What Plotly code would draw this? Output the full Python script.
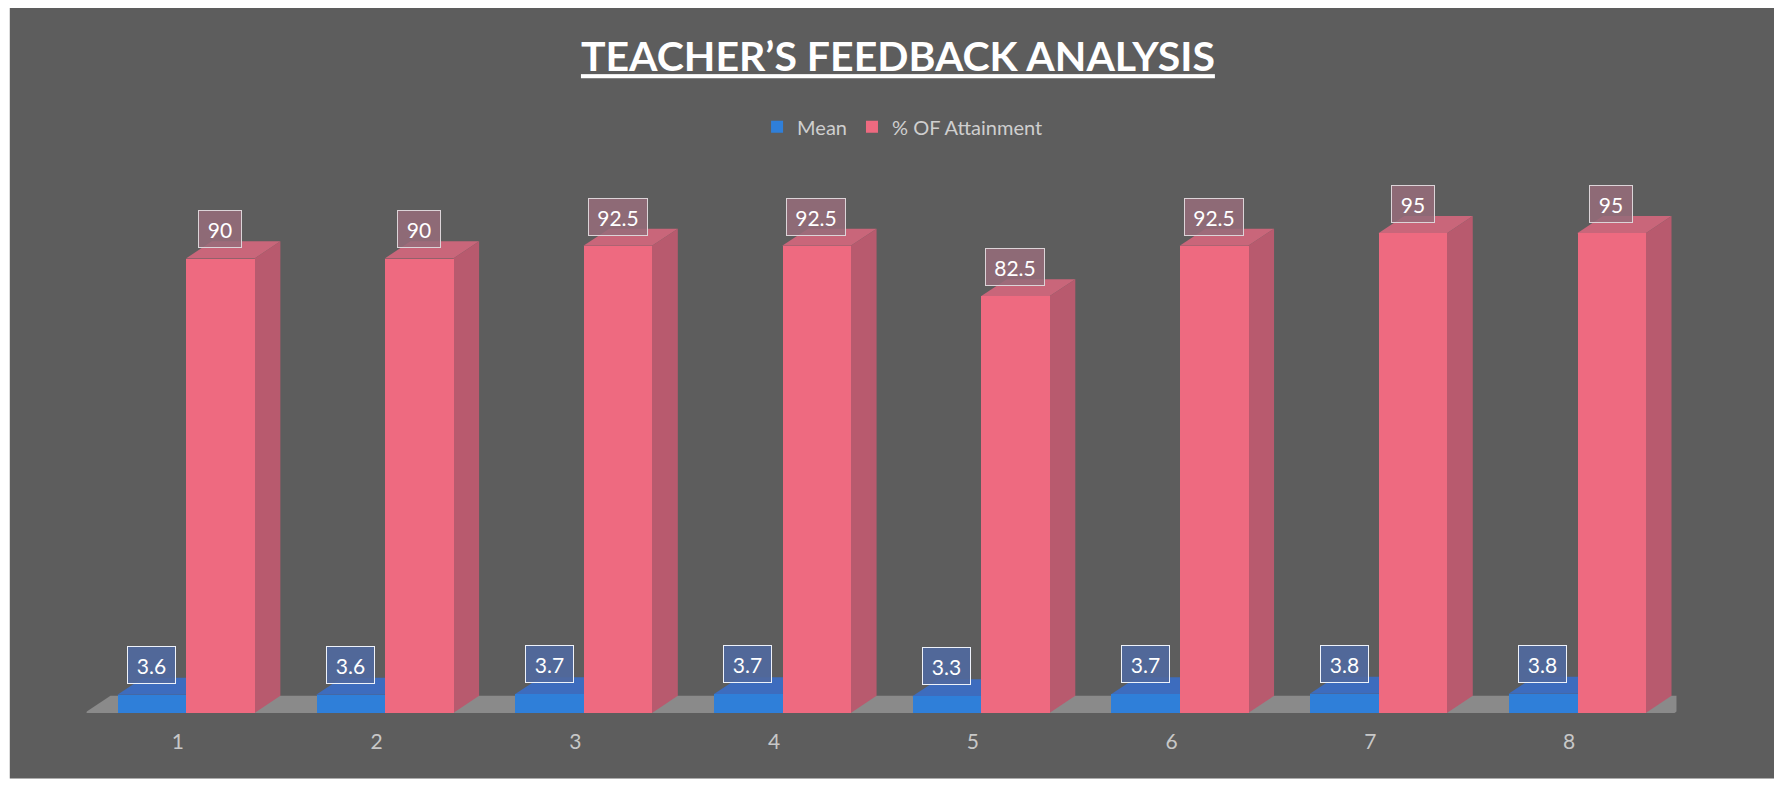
import plotly.graph_objects as go

categories = [1, 2, 3, 4, 5, 6, 7, 8]
mean_values = [3.6, 3.6, 3.7, 3.7, 3.3, 3.7, 3.8, 3.8]
attainment_values = [90, 90, 92.5, 92.5, 82.5, 92.5, 95, 95]
tick_labels = ["1", "2", "3", "4", "5", "6", "7", "8"]

BAR_W = 0.345
DX = 0.13      # depth offset (x units)
DY = 3.4       # depth offset (y units)

BG = "#5d5d5d"
RED = "#EE6A80"
RED_SIDE = "#B85A6E"
RED_TOP = "#C9667A"
BLUE = "#2F7FD9"
BLUE_TOP = "#3D6CBE"
FONT = "Lato, Open Sans, sans-serif"

fig = go.Figure()

fig.add_trace(go.Bar(
    x=categories, y=mean_values, name="Mean",
    width=BAR_W, offset=-BAR_W, marker=dict(color=BLUE, line=dict(width=0)),
))
fig.add_trace(go.Bar(
    x=categories, y=attainment_values, name="% OF Attainment",
    width=BAR_W, offset=0, marker=dict(color=RED, line=dict(width=0)),
))

shapes = []
# scanned chart area
shapes.append(dict(type="rect", xref="paper", yref="paper", x0=0.001, x1=1.0, y0=0.021, y1=1.0,
                   fillcolor=BG, line=dict(width=0), layer="below"))
# floor
x_lo = categories[0] - 0.51
x_hi = categories[-1] + 0.49
shapes.append(dict(type="path", xref="x", yref="y", layer="below",
                   path=f"M {x_lo},0 L {x_hi},0 L {x_hi+DX},{DY} L {x_lo+DX},{DY} Z",
                   fillcolor="#8a8a8a", line=dict(width=0)))


def faces(xl, xr, v, top_col, side_col):
    out = []
    out.append(dict(type="path", xref="x", yref="y", layer="below",
                    path=f"M {xr},0 L {xr+DX},{DY} L {xr+DX},{v+DY} L {xr},{v} Z",
                    fillcolor=side_col, line=dict(width=0)))
    out.append(dict(type="path", xref="x", yref="y", layer="below",
                    path=f"M {xl},{v} L {xl+DX},{v+DY} L {xr+DX},{v+DY} L {xr},{v} Z",
                    fillcolor=top_col, line=dict(width=0)))
    return out


for c, m, a in zip(categories, mean_values, attainment_values):
    shapes += faces(c - BAR_W, c, m, BLUE_TOP, BLUE_TOP)
    shapes += faces(c, c + BAR_W, a, RED_TOP, RED_SIDE)


def box_width(t):
    return 11 * sum(ch.isdigit() for ch in t) + 5 * t.count(".") + 10


annotations = []
for c, m, a in zip(categories, mean_values, attainment_values):
    ta, tm = f"{a:g}", f"{m:g}"
    annotations.append(dict(
        x=c + BAR_W / 2, y=a, xref="x", yref="y", text=ta, showarrow=False,
        yanchor="bottom", yshift=10, width=box_width(ta), height=26,
        font=dict(family=FONT, size=21, color="white"),
        bgcolor="rgba(150,108,122,0.85)", bordercolor="#dcd4d8", borderwidth=1, borderpad=5,
    ))
    annotations.append(dict(
        x=c - BAR_W / 2, y=m, xref="x", yref="y", text=tm, showarrow=False,
        yanchor="bottom", yshift=11, width=box_width(tm), height=26,
        font=dict(family=FONT, size=21, color="white"),
        bgcolor="rgba(80,105,160,0.9)", bordercolor="#eef2fa", borderwidth=1, borderpad=5,
    ))

fig.update_layout(
    width=1782, height=787,
    margin=dict(l=0, r=0, t=0, b=0),
    paper_bgcolor="white", plot_bgcolor="rgba(0,0,0,0)",
    barmode="overlay", bargap=0,
    title=dict(
        text="<b>TEACHER’S FEEDBACK ANALYSIS</b>", x=0.4994, xanchor="center", y=0.938, yanchor="middle",
        font=dict(family=FONT, size=41, color="white", lineposition="under"),
    ),
    legend=dict(orientation="h", x=0.502, xanchor="center", y=0.849, yanchor="middle",
                font=dict(family=FONT, size=20, color="#cfcfcf"),
                bgcolor="rgba(0,0,0,0)", itemwidth=30, traceorder="normal"),
    xaxis=dict(domain=[0.0441, 0.9363], range=[0.5, 8.5], tickvals=categories, ticktext=tick_labels,
               showgrid=False, zeroline=False, showline=False,
               ticks="", ticklabelstandoff=14, ticklabelshift=-8,
               tickfont=dict(family=FONT, size=21, color="#c8c8c8")),
    yaxis=dict(domain=[0.1042, 0.7459], range=[0, 100], visible=False),
    shapes=shapes, annotations=annotations,
    showlegend=True,
)

fig.write_html("out.html")
